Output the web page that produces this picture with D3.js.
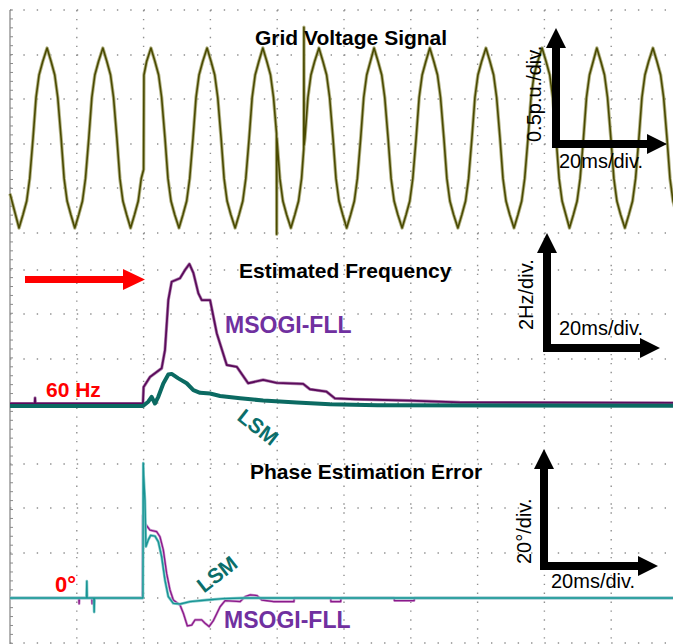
<!DOCTYPE html>
<html>
<head>
<meta charset="utf-8">
<script src="https://cdn.jsdelivr.net/npm/d3@7"></script>
<style>
body { margin: 0; background: #fff; }
svg { display: block; font-family: "Liberation Sans", Arial, sans-serif; }
</style>
</head>
<body>
<div id="chart"></div>
<script>
// Grid voltage (p.u.) vs time (ms)
var voltage = [
[0,-0.62],[2.7,-1.0],[3.9,-0.85],[5.0,-0.70],[5.9,-0.45],[6.9,0],[7.8,0.45],[8.7,0.70],[9.8,0.85],
[11.1,1.0],[12.3,0.85],[13.4,0.70],[14.3,0.45],[15.3,0],[16.2,-0.45],[17.1,-0.70],[18.2,-0.85],
[19.4,-1.0],[20.6,-0.85],[21.7,-0.70],[22.6,-0.45],[23.6,0],[24.5,0.45],[25.4,0.70],[26.5,0.85],
[27.8,1.0],[29.0,0.85],[30.1,0.70],[31.0,0.45],[32.0,0],[32.9,-0.45],[33.8,-0.70],[34.9,-0.85],
[36.1,-1.0],[37.3,-0.85],[38.4,-0.70],[39.3,-0.45],[40.0,-0.35],[40.1,0.70],[40.9,0.85],
[42.2,1.0],[43.4,0.85],[44.5,0.70],[45.4,0.45],[46.4,0],[47.3,-0.45],[48.2,-0.70],[49.3,-0.85],
[50.6,-1.0],[51.8,-0.85],[52.9,-0.70],[53.8,-0.45],[54.8,0],[55.7,0.45],[56.6,0.70],[57.7,0.85],
[59.0,1.0],[60.2,0.85],[61.3,0.70],[62.2,0.45],[63.2,0],[64.1,-0.45],[65.0,-0.70],[66.1,-0.85],
[67.4,-1.0],[68.6,-0.85],[69.7,-0.70],[70.6,-0.45],[71.6,0],[72.5,0.45],[73.4,0.70],[74.5,0.85],
[75.7,1.0],[76.9,0.85],[78.0,0.70],[78.9,0.45],[79.8,0.05],[79.85,-1.07],[79.9,0.0],[80.8,-0.45],[81.7,-0.70],[82.8,-0.85],
[84.1,-1.0],[85.3,-0.85],[86.4,-0.70],[87.3,-0.45],[87.95,-0.12],[88.0,1.23],[88.05,-0.08],[88.3,0],[89.2,0.45],[90.1,0.70],[91.2,0.85],
[92.5,1.0],[93.7,0.85],[94.8,0.70],[95.7,0.45],[96.7,0],[97.6,-0.45],[98.5,-0.70],[99.6,-0.85],
[100.8,-1.0],[102.0,-0.85],[103.1,-0.70],[104.0,-0.45],[105.0,0],[105.9,0.45],[106.8,0.70],[107.9,0.85],
[109.0,1.0],[110.2,0.85],[111.3,0.70],[112.2,0.45],[113.2,0],[114.1,-0.45],[115.0,-0.70],[116.1,-0.85],
[117.4,-1.0],[118.6,-0.85],[119.7,-0.70],[120.6,-0.45],[121.6,0],[122.5,0.45],[123.4,0.70],[124.5,0.85],
[125.7,1.0],[126.9,0.85],[128.0,0.70],[128.9,0.45],[129.9,0],[130.8,-0.45],[131.7,-0.70],[132.8,-0.85],
[134.1,-1.0],[135.3,-0.85],[136.4,-0.70],[137.3,-0.45],[138.3,0],[139.2,0.45],[140.1,0.70],[141.2,0.85],
[142.5,1.0],[143.7,0.85],[144.8,0.70],[145.7,0.45],[146.7,0],[147.6,-0.45],[148.5,-0.70],[149.6,-0.85],
[150.9,-1.0],[152.1,-0.85],[153.2,-0.70],[154.1,-0.45],[155.1,0],[156.0,0.45],[156.9,0.70],[158.0,0.85],
[159.3,1.0],[160.5,0.85],[161.6,0.70],[162.5,0.45],[163.5,0],[164.4,-0.45],[165.3,-0.70],[166.4,-0.85],
[167.5,-1.0],[168.7,-0.85],[169.8,-0.70],[170.7,-0.45],[171.7,0],[172.6,0.45],[173.5,0.70],[174.6,0.85],
[175.7,1.0],[176.9,0.85],[178.0,0.70],[178.9,0.45],[179.9,0],[180.8,-0.45],[181.7,-0.70],[182.8,-0.85],
[184.1,-1.0],[185.3,-0.85],[186.4,-0.70],[187.3,-0.45],[188.3,0],[189.2,0.45],[190.1,0.70],[191.2,0.85],
[192.5,1.0],[193.7,0.85],[194.8,0.70],[195.7,0.45],[196.7,0],[197.6,-0.45],[198.5,-0.70],[199.6,-0.85],[200.9,-1.0]
];

// Estimated frequency (Hz)
var freqMsogi = [
[0,60.0],[7.4,60.0],[7.5,60.25],[7.6,60.0],[39.8,60.0],[40.0,60.74],[41.9,61.19],[45.4,61.58],[46.4,62.4],
[47.4,64.65],[48.4,65.47],[50.9,65.63],[52.4,66.0],[53.7,66.27],[54.9,65.87],[56.4,64.95],[57.4,64.65],
[59.9,64.65],[61.9,63.16],[64.9,61.73],[67.9,61.65],[71.3,60.91],[75.8,61.06],[79.8,60.93],[87.8,60.88],
[89.8,60.64],[94.8,60.53],[97.3,60.23],[103.3,60.19],[119.8,60.13],[134.7,60.05],[200,60.03]
];
var freqLsm = [
[0,59.89],[39.8,59.89],[41.4,60.08],[42.4,60.3],[43.4,60.0],[44.4,60.3],[45.9,60.9],[47.4,61.3],[48.4,61.33],
[50.4,61.13],[52.9,60.91],[54.9,60.6],[56.9,60.48],[59.9,60.45],[62.9,60.34],[68.9,60.24],[75.8,60.13],
[85.8,60.04],[95.8,59.97],[110,59.92],[200,59.9]
];

// Phase estimation error (deg)
var phaseMsogi = [
[0,0],[20.6,0],[20.7,-2.5],[20.8,0],[24.5,0],[24.6,-2.5],[24.7,0],[39.7,0],[39.8,37],[40.4,33.4],[41.9,30.4],
[43.9,29.7],[44.9,27.4],[45.9,21.5],[46.9,11],[47.9,3.6],[48.9,-0.9],[50.9,-3.1],[51.9,-6.8],[53.1,-12.5],
[54.4,-12.1],[55.4,-9.8],[57.4,-9.8],[58.4,-11.3],[59.6,-12.8],[60.9,-10.1],[62.9,-3.9],[64.4,-1.2],
[68.9,-1.6],[70.4,0.6],[71.9,1.4],[73.9,1.1],[75.4,-0.9],[78.9,-1.6],[85,-1.6],[85.1,0],[96,0],[96.1,-1.6],
[99,-1.6],[99.1,0],[115,0],[115.1,-1.2],[121,-1.2],[121.1,0],[200,0]
];
var phaseLsm = [
[0,0],[22.9,0],[23.0,7.5],[23.1,0],[25.1,0],[25.2,-6.3],[25.3,0],[39.8,0],[39.9,60.3],[40.0,55],[40.4,43.8],
[40.7,23],[41.4,26],[42.1,28],[43.4,27.7],[44.4,25.2],[45.4,18.5],[46.4,8],[47.4,0.6],[48.9,-2.4],
[50.9,-2.7],[53.9,-1.6],[58.9,-0.9],[63.8,-0.3],[70,0],[200,0]
];

var colTimes = [20, 40, 60, 80, 100, 120, 140, 160, 180];

var svg = d3.select("#chart").append("svg")
    .attr("width", 673)
    .attr("height", 644);

svg.append("rect").attr("width", 673).attr("height", 644).attr("fill", "#fff");

// time axis shared by the 3 screens (20ms/div)
var x = d3.scaleLinear().domain([0, 200]).range([10, 678]);
var yV = d3.scaleLinear().domain([-1, 1]).range([228, 48]);
var yF = d3.scaleLinear().domain([60, 62]).range([403.5, 359]);
var yP = d3.scaleLinear().domain([0, 20]).range([598, 553.3]);

// dotted grid of one scope screen
function drawGrid(top, bottom, rows) {
    var g = svg.append("g");
    g.selectAll("line.col")
        .data(colTimes)
        .enter()
        .append("line")
        .attr("x1", d => x(d)).attr("x2", d => x(d))
        .attr("y1", top).attr("y2", bottom)
        .attr("stroke", "#8f8f8f")
        .attr("stroke-width", 1.4)
        .attr("stroke-dasharray", "1.4,7.52");
    g.selectAll("line.row")
        .data(rows)
        .enter()
        .append("line")
        .attr("x1", 10).attr("x2", 673)
        .attr("y1", d => d).attr("y2", d => d)
        .attr("stroke", "#8f8f8f")
        .attr("stroke-width", 1.4)
        .attr("stroke-dasharray", "1.4,11.96");
}
drawGrid(10, 236, [10, 55, 99, 144, 188, 233]);
drawGrid(238, 432, [270, 314, 359, 403]);
drawGrid(432, 644, [464, 508, 553, 598, 643]);

// left border with minor ticks
svg.append("line")
    .attr("x1", 10).attr("x2", 10).attr("y1", 10).attr("y2", 644)
    .attr("stroke", "#8a8a8a").attr("stroke-width", 1.3);
svg.append("g")
    .selectAll("line")
    .data(d3.range(10, 644, 8.92))
    .enter()
    .append("line")
    .attr("x1", 10).attr("x2", 13)
    .attr("y1", d => d).attr("y2", d => d)
    .attr("stroke", "#8a8a8a").attr("stroke-width", 1);

function trace(data, yScale, color, width, halo, haloWidth) {
    var line = d3.line()
        .x(d => x(d[0]))
        .y(d => yScale(d[1]));
    if (halo) {
        svg.append("path")
            .datum(data)
            .attr("d", line)
            .attr("fill", "none")
            .attr("stroke", halo)
            .attr("stroke-width", haloWidth)
            .attr("stroke-linejoin", "round");
    }
    svg.append("path")
        .datum(data)
        .attr("d", line)
        .attr("fill", "none")
        .attr("stroke", color)
        .attr("stroke-width", width)
        .attr("stroke-linejoin", "round");
}

trace(voltage, yV, "#4a4a00", 1.6, "#b4b488", 3.4);
trace(freqMsogi, yF, "#5b0b5b", 1.8, "#b48ab4", 3.2);
trace(freqLsm, yF, "#0b6a62", 4);
trace(phaseMsogi, yP, "#8a1a8a", 1.3, "#cf98cf", 2.6);
trace(phaseLsm, yP, "#189494", 1.4, "#86cccc", 2.8);

function label(txt, px, py, size, weight, color, rot) {
    var t = svg.append("text")
        .attr("x", px).attr("y", py)
        .attr("font-size", size)
        .attr("font-weight", weight)
        .attr("fill", color)
        .text(txt);
    if (rot) t.attr("transform", "rotate(" + rot + "," + px + "," + py + ")");
    return t;
}

label("Grid Voltage Signal", 255, 45, 21, "bold", "#000");
label("Estimated Frequency", 239, 278, 21, "bold", "#000");
label("Phase Estimation Error", 250, 479, 21, "bold", "#000");
label("MSOGI-FLL", 225, 333, 23, "bold", "#7030a0");
label("MSOGI-FLL", 224, 628, 23, "bold", "#7030a0");
label("60 Hz", 46, 397, 21, "bold", "#ff0000");
label("0°", 55, 592, 22, "bold", "#ff0000");

svg.append("text")
    .attr("transform", "translate(258,427) rotate(38)")
    .attr("text-anchor", "middle").attr("dy", "0.35em")
    .attr("font-size", 21).attr("font-weight", "bold")
    .attr("fill", "#0b6e6a").text("LSM");
svg.append("text")
    .attr("transform", "translate(217,574) rotate(-38)")
    .attr("text-anchor", "middle").attr("dy", "0.35em")
    .attr("font-size", 21).attr("font-weight", "bold")
    .attr("fill", "#0b6e6a").text("LSM");

// red arrow marking the phase jump
svg.append("path")
    .attr("d", "M25,276 L123,276 L123,269 L145,279.5 L123,290 L123,283 L25,283 Z")
    .attr("fill", "#ff0000");

// scale indicators
function scaleArrow(cx, cy, topTip, rightTip) {
    var s = 4, h = 20, w = 10;
    var p = "M" + (cx - s) + "," + (topTip + h) +
        " L" + (cx - w) + "," + (topTip + h) +
        " L" + cx + "," + topTip +
        " L" + (cx + w) + "," + (topTip + h) +
        " L" + (cx + s) + "," + (topTip + h) +
        " L" + (cx + s) + "," + (cy - s) +
        " L" + (rightTip - h) + "," + (cy - s) +
        " L" + (rightTip - h) + "," + (cy - w) +
        " L" + rightTip + "," + cy +
        " L" + (rightTip - h) + "," + (cy + w) +
        " L" + (rightTip - h) + "," + (cy + s) +
        " L" + (cx - s) + "," + (cy + s) + " Z";
    svg.append("path").attr("d", p).attr("fill", "#000");
}
scaleArrow(556, 144, 28, 667);
scaleArrow(547, 348, 233, 660);
scaleArrow(544, 566, 449, 658);

label("0.5p.u./div.", 541, 142, 20, "normal", "#000", -90);
label("20ms/div.", 559, 168, 20, "normal", "#000");
label("2Hz/div.", 533, 330, 20, "normal", "#000", -90);
label("20ms/div.", 559, 335, 20, "normal", "#000");
label("20°/div.", 531, 564, 20, "normal", "#000", -90);
label("20ms/div.", 551, 588, 20, "normal", "#000");
</script>
</body>
</html>
